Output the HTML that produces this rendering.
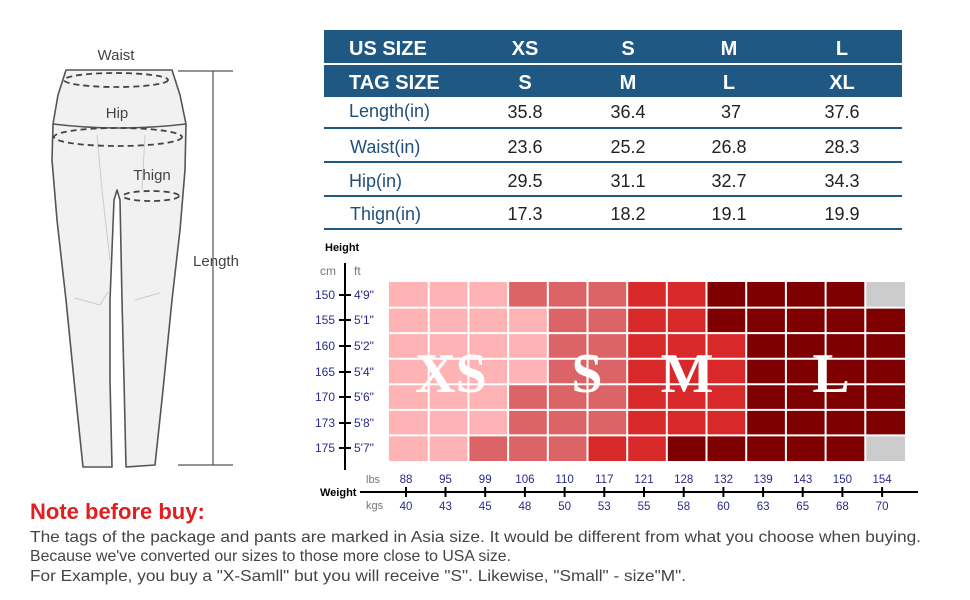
<!DOCTYPE html>
<html><head><meta charset="utf-8"><style>
html,body{margin:0;padding:0;background:#fff;}
svg{display:block;}
text{font-family:"Liberation Sans",Arial,sans-serif;}
</style></head><body>
<svg width="970" height="600" viewBox="0 0 970 600" xmlns="http://www.w3.org/2000/svg">
<!-- Pants -->
<g stroke="#555" stroke-width="1.6" fill="#f1f1f1" stroke-linejoin="round">
<path d="M66,70 L172,70 L180,95 L186,124 L185,170 L180,230 L172,300 L163,390 L155,465 L126,467 L124,380 L122,300 L120,200 L117,190 L114,200 L110,300 L110,380 L112,467 L83,467 L75,390 L66,300 L57,220 L52,160 L53,124 L58,95 Z"/>
<path d="M53,124 Q118,132 186,124" fill="none"/>
</g>
<g stroke="#ccc" stroke-width="1" fill="none">
<path d="M97,135 L102,190 L110,260"/><path d="M145,135 L142,190"/>
<path d="M75,298 L100,305 L108,292"/><path d="M135,300 L160,293"/>
</g>
<g stroke="#444" stroke-width="1.8" fill="none" stroke-dasharray="6,4">
<ellipse cx="116" cy="80" rx="52" ry="7"/>
<ellipse cx="118" cy="137" rx="64" ry="9"/>
<ellipse cx="151" cy="196" rx="28" ry="5"/>
</g>
<g font-size="15" fill="#444">
<text x="116" y="60" text-anchor="middle">Waist</text>
<text x="117" y="118" text-anchor="middle">Hip</text>
<text x="152" y="180" text-anchor="middle">Thign</text>
<text x="216" y="266" text-anchor="middle">Length</text>
</g>
<g stroke="#555" stroke-width="1.2">
<line x1="213" y1="71" x2="213" y2="465"/>
<line x1="178" y1="71" x2="233" y2="71"/>
<line x1="178" y1="465" x2="233" y2="465"/>
</g>

<!-- Table -->
<rect x="324" y="30" width="578" height="33" fill="#1f5883"/>
<rect x="324" y="65" width="578" height="32" fill="#1f5883"/>
<g font-size="20" font-weight="bold" fill="#fff">
<text x="349" y="55">US SIZE</text>
<text x="525" y="55" text-anchor="middle">XS</text>
<text x="628" y="55" text-anchor="middle">S</text>
<text x="729" y="55" text-anchor="middle">M</text>
<text x="842" y="55" text-anchor="middle">L</text>
<text x="349" y="89">TAG SIZE</text>
<text x="525" y="89" text-anchor="middle">S</text>
<text x="628" y="89" text-anchor="middle">M</text>
<text x="729" y="89" text-anchor="middle">L</text>
<text x="842" y="89" text-anchor="middle">XL</text>
</g>
<g stroke="#1f5883" stroke-width="2">
<line x1="324" y1="128" x2="902" y2="128"/>
<line x1="324" y1="162" x2="902" y2="162"/>
<line x1="324" y1="196" x2="902" y2="196"/>
<line x1="324" y1="229" x2="902" y2="229"/>
</g>
<g font-size="18" fill="#1f4f7a">
<text x="349" y="117">Length(in)</text>
<text x="350" y="153">Waist(in)</text>
<text x="349" y="187">Hip(in)</text>
<text x="350" y="220">Thign(in)</text>
</g>
<g font-size="18" fill="#222" text-anchor="middle">
<text x="525" y="118">35.8</text><text x="628" y="118">36.4</text><text x="731" y="118">37</text><text x="842" y="118">37.6</text>
<text x="525" y="153">23.6</text><text x="628" y="153">25.2</text><text x="729" y="153">26.8</text><text x="842" y="153">28.3</text>
<text x="525" y="187">29.5</text><text x="628" y="187">31.1</text><text x="729" y="187">32.7</text><text x="842" y="187">34.3</text>
<text x="525" y="220">17.3</text><text x="628" y="220">18.2</text><text x="729" y="220">19.1</text><text x="842" y="220">19.9</text>
</g>

<!-- Height/weight chart -->
<text x="325" y="251" font-size="11" font-weight="bold" fill="#000">Height</text>
<text x="320" y="275" font-size="12" fill="#777">cm</text>
<text x="354" y="275" font-size="12" fill="#777">ft</text>
<line x1="345" y1="263" x2="345" y2="470" stroke="#000" stroke-width="2"/>

<rect x="389" y="282" width="119.1" height="25.6" fill="#ffb3b5"/>
<rect x="508.1" y="282" width="119.1" height="25.6" fill="#dc6466"/>
<rect x="627.2" y="282" width="79.3" height="25.6" fill="#d8282a"/>
<rect x="706.5" y="282" width="158.8" height="25.6" fill="#7f0000"/>
<rect x="865.3" y="282" width="39.7" height="25.6" fill="#cccccc"/>
<rect x="389" y="307.6" width="158.8" height="25.5" fill="#ffb3b5"/>
<rect x="547.8" y="307.6" width="79.4" height="25.5" fill="#dc6466"/>
<rect x="627.2" y="307.6" width="79.3" height="25.5" fill="#d8282a"/>
<rect x="706.5" y="307.6" width="198.5" height="25.5" fill="#7f0000"/>
<rect x="389" y="333.1" width="158.8" height="51.2" fill="#ffb3b5"/>
<rect x="547.8" y="333.1" width="79.4" height="51.2" fill="#dc6466"/>
<rect x="627.2" y="333.1" width="119" height="51.2" fill="#d8282a"/>
<rect x="746.2" y="333.1" width="158.8" height="51.2" fill="#7f0000"/>
<rect x="389" y="384.3" width="119.1" height="51.1" fill="#ffb3b5"/>
<rect x="508.1" y="384.3" width="119.1" height="51.1" fill="#dc6466"/>
<rect x="627.2" y="384.3" width="119" height="51.1" fill="#d8282a"/>
<rect x="746.2" y="384.3" width="158.8" height="51.1" fill="#7f0000"/>
<rect x="389" y="435.4" width="79.4" height="25.6" fill="#ffb3b5"/>
<rect x="468.4" y="435.4" width="119.1" height="25.6" fill="#dc6466"/>
<rect x="587.5" y="435.4" width="79.3" height="25.6" fill="#d8282a"/>
<rect x="666.8" y="435.4" width="198.5" height="25.6" fill="#7f0000"/>
<rect x="865.3" y="435.4" width="39.7" height="25.6" fill="#cccccc"/>
<g stroke="#fff" stroke-width="2">
<line x1="428.7" y1="282" x2="428.7" y2="461"/><line x1="468.4" y1="282" x2="468.4" y2="461"/>
<line x1="508.1" y1="282" x2="508.1" y2="461"/><line x1="547.8" y1="282" x2="547.8" y2="461"/>
<line x1="587.5" y1="282" x2="587.5" y2="461"/><line x1="627.2" y1="282" x2="627.2" y2="461"/>
<line x1="666.8" y1="282" x2="666.8" y2="461"/><line x1="706.5" y1="282" x2="706.5" y2="461"/>
<line x1="746.2" y1="282" x2="746.2" y2="461"/><line x1="785.9" y1="282" x2="785.9" y2="461"/>
<line x1="825.6" y1="282" x2="825.6" y2="461"/><line x1="865.3" y1="282" x2="865.3" y2="461"/>
<line x1="389" y1="307.6" x2="905" y2="307.6"/><line x1="389" y1="333.1" x2="905" y2="333.1"/>
<line x1="389" y1="358.7" x2="905" y2="358.7"/><line x1="389" y1="384.3" x2="905" y2="384.3"/>
<line x1="389" y1="409.9" x2="905" y2="409.9"/><line x1="389" y1="435.4" x2="905" y2="435.4"/>
</g>

<g font-size="12" fill="#2a2a8a">
<text x="335" y="299" text-anchor="end">150</text><text x="354" y="299">4'9"</text>
<text x="335" y="324" text-anchor="end">155</text><text x="354" y="324">5'1"</text>
<text x="335" y="350" text-anchor="end">160</text><text x="354" y="350">5'2"</text>
<text x="335" y="376" text-anchor="end">165</text><text x="354" y="376">5'4"</text>
<text x="335" y="401" text-anchor="end">170</text><text x="354" y="401">5'6"</text>
<text x="335" y="427" text-anchor="end">173</text><text x="354" y="427">5'8"</text>
<text x="335" y="452" text-anchor="end">175</text><text x="354" y="452">5'7"</text>
</g>
<g stroke="#000" stroke-width="2">
<line x1="339" y1="295" x2="351" y2="295"/><line x1="339" y1="320" x2="351" y2="320"/>
<line x1="339" y1="346" x2="351" y2="346"/><line x1="339" y1="372" x2="351" y2="372"/>
<line x1="339" y1="397" x2="351" y2="397"/><line x1="339" y1="423" x2="351" y2="423"/>
<line x1="339" y1="448" x2="351" y2="448"/>
</g>
<g font-weight="bold" font-size="56" fill="#fff" text-anchor="middle">
<text x="451" y="392" style="font-family:'Liberation Serif',serif">XS</text>
<text x="587" y="392" style="font-family:'Liberation Serif',serif">S</text>
<text x="687" y="392" style="font-family:'Liberation Serif',serif">M</text>
<text x="831" y="392" style="font-family:'Liberation Serif',serif">L</text>
</g>

<line x1="360" y1="492" x2="918" y2="492" stroke="#000" stroke-width="2"/>
<text x="320" y="496" font-size="11" font-weight="bold" fill="#000">Weight</text>
<text x="366" y="483" font-size="11" fill="#777">lbs</text>
<text x="366" y="509" font-size="11" fill="#777">kgs</text>
<g stroke="#000" stroke-width="2">
<line x1="406" y1="487" x2="406" y2="497"/><line x1="445.5" y1="487" x2="445.5" y2="497"/>
<line x1="485.2" y1="487" x2="485.2" y2="497"/><line x1="524.9" y1="487" x2="524.9" y2="497"/>
<line x1="564.6" y1="487" x2="564.6" y2="497"/><line x1="604.3" y1="487" x2="604.3" y2="497"/>
<line x1="644" y1="487" x2="644" y2="497"/><line x1="683.7" y1="487" x2="683.7" y2="497"/>
<line x1="723.4" y1="487" x2="723.4" y2="497"/><line x1="763.1" y1="487" x2="763.1" y2="497"/>
<line x1="802.7" y1="487" x2="802.7" y2="497"/><line x1="842.4" y1="487" x2="842.4" y2="497"/>
<line x1="882.1" y1="487" x2="882.1" y2="497"/>
</g>
<g font-size="11.5" fill="#2a2a8a" text-anchor="middle">
<text x="406" y="483">88</text><text x="445.5" y="483">95</text><text x="485.2" y="483">99</text>
<text x="524.9" y="483">106</text><text x="564.6" y="483">110</text><text x="604.3" y="483">117</text>
<text x="644" y="483">121</text><text x="683.7" y="483">128</text><text x="723.4" y="483">132</text>
<text x="763.1" y="483">139</text><text x="802.7" y="483">143</text><text x="842.4" y="483">150</text>
<text x="882.1" y="483">154</text>
<text x="406" y="510">40</text><text x="445.5" y="510">43</text><text x="485.2" y="510">45</text>
<text x="524.9" y="510">48</text><text x="564.6" y="510">50</text><text x="604.3" y="510">53</text>
<text x="644" y="510">55</text><text x="683.7" y="510">58</text><text x="723.4" y="510">60</text>
<text x="763.1" y="510">63</text><text x="802.7" y="510">65</text><text x="842.4" y="510">68</text>
<text x="882.1" y="510">70</text>
</g>

<text x="30" y="519" font-size="22" font-weight="bold" fill="#e02020">Note before buy:</text>
<g font-size="16" fill="#444">
<text x="30" y="542" textLength="891" lengthAdjust="spacingAndGlyphs">The tags of  the package and pants are marked in Asia size. It would be different from what you choose when buying.</text>
<text x="30" y="561" textLength="481" lengthAdjust="spacingAndGlyphs">Because we've converted our sizes to those more close to USA size.</text>
<text x="30" y="581" textLength="656" lengthAdjust="spacingAndGlyphs">For Example,  you buy a "X-Samll" but you will receive  "S".  Likewise, "Small" - size"M".</text>
</g>
</svg>
</body></html>
